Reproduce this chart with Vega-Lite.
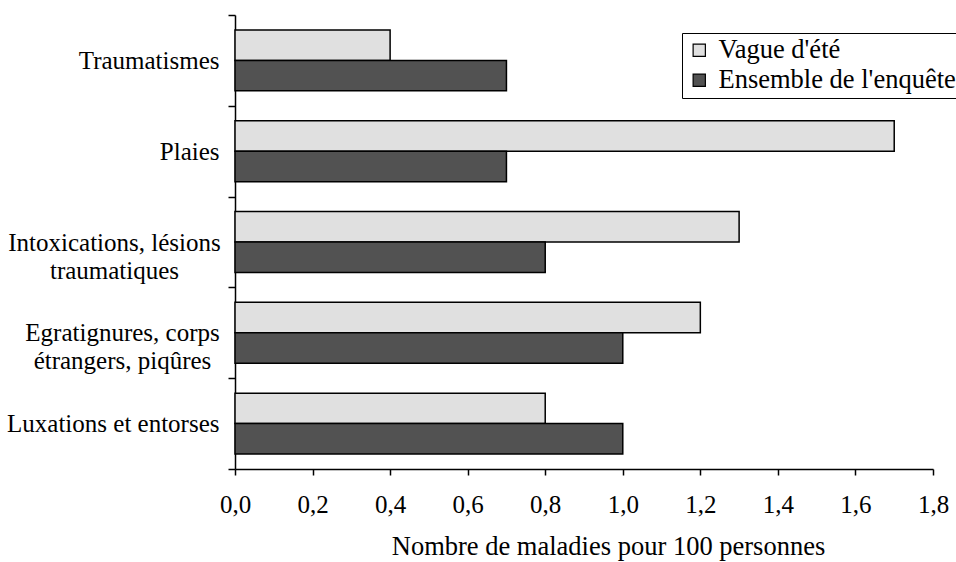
{
  "$schema": "https://vega.github.io/schema/vega-lite/v6.json",
  "autosize": {"type": "none"},
  "padding": {"left": 235, "top": 15, "right": 23, "bottom": 93},
  "width": 698,
  "height": 454,
  "background": "white",
  "config": {
    "view": {"stroke": null},
    "font": "Liberation Serif",
    "axis": {
      "labelFont": "Liberation Serif",
      "titleFont": "Liberation Serif",
      "labelColor": "black",
      "titleColor": "black",
      "domainColor": "black",
      "tickColor": "black",
      "domainWidth": 1.5,
      "tickWidth": 1.5,
      "grid": false
    },
    "legend": {
      "labelFont": "Liberation Serif",
      "labelColor": "black"
    }
  },
  "data": {
    "values": [
      {"categorie": "Traumatismes", "serie": "Vague d'été", "taux": 0.4},
      {"categorie": "Traumatismes", "serie": "Ensemble de l'enquête", "taux": 0.7},
      {"categorie": "Plaies", "serie": "Vague d'été", "taux": 1.7},
      {"categorie": "Plaies", "serie": "Ensemble de l'enquête", "taux": 0.7},
      {"categorie": "Intoxications, lésions traumatiques", "serie": "Vague d'été", "taux": 1.3},
      {"categorie": "Intoxications, lésions traumatiques", "serie": "Ensemble de l'enquête", "taux": 0.8},
      {"categorie": "Egratignures, corps étrangers, piqûres", "serie": "Vague d'été", "taux": 1.2},
      {"categorie": "Egratignures, corps étrangers, piqûres", "serie": "Ensemble de l'enquête", "taux": 1.0},
      {"categorie": "Luxations et entorses", "serie": "Vague d'été", "taux": 0.8},
      {"categorie": "Luxations et entorses", "serie": "Ensemble de l'enquête", "taux": 1.0}
    ]
  },
  "mark": {"type": "bar", "stroke": "black", "strokeWidth": 1.5, "cornerRadius": 0},
  "encoding": {
    "y": {
      "field": "categorie",
      "type": "nominal",
      "sort": ["Traumatismes", "Plaies", "Intoxications, lésions traumatiques", "Egratignures, corps étrangers, piqûres", "Luxations et entorses"],
      "scale": {"paddingInner": 0, "paddingOuter": 0},
      "axis": {
        "title": null,
        "tickBand": "extent",
        "tickSize": 7,
        "labelFontSize": 25,
        "labelLineHeight": 28,
        "labelPadding": {
          "condition": [
            {"test": "datum.value === 'Intoxications, lésions traumatiques'", "value": 114},
            {"test": "datum.value === 'Egratignures, corps étrangers, piqûres'", "value": 106}
          ],
          "value": 9
        },
        "labelAlign": {
          "condition": {"test": "datum.value === 'Intoxications, lésions traumatiques' || datum.value === 'Egratignures, corps étrangers, piqûres'", "value": "center"},
          "value": "right"
        },
        "labelExpr": "datum.value === 'Intoxications, lésions traumatiques' ? ['Intoxications, lésions', 'traumatiques'] : datum.value === 'Egratignures, corps étrangers, piqûres' ? ['Egratignures, corps', 'étrangers, piqûres'] : datum.value",
        "labelLimit": 400
      }
    },
    "yOffset": {
      "field": "serie",
      "type": "nominal",
      "sort": ["Vague d'été", "Ensemble de l'enquête"],
      "scale": {"paddingInner": 0, "paddingOuter": 0.49}
    },
    "x": {
      "field": "taux",
      "type": "quantitative",
      "scale": {"domain": [0, 1.8], "nice": false},
      "axis": {
        "title": "Nombre de maladies pour 100 personnes",
        "titleFontSize": 26.5,
        "titleFontWeight": "normal",
        "titlePadding": 16,
        "titleX": 373,
        "titleAlign": "center",
        "values": [0, 0.2, 0.4, 0.6, 0.8, 1.0, 1.2, 1.4, 1.6, 1.8],
        "labelExpr": "replace(format(datum.value, '.1f'), '.', ',')",
        "labelFontSize": 25,
        "labelPadding": 17,
        "tickSize": 6,
        "labelFlush": false
      }
    },
    "fill": {
      "field": "serie",
      "type": "nominal",
      "sort": ["Vague d'été", "Ensemble de l'enquête"],
      "scale": {"domain": ["Vague d'été", "Ensemble de l'enquête"], "range": ["#e0e0e0", "#525252"]},
      "legend": {
        "title": null,
        "orient": "none",
        "legendX": 447,
        "legendY": 18,
        "direction": "vertical",
        "symbolType": "square",
        "symbolSize": 150,
        "symbolStrokeColor": "black",
        "symbolStrokeWidth": 1.2,
        "labelFontSize": 26.5,
        "labelOffset": 6,
        "rowPadding": 3,
        "padding": 4,
        "strokeColor": "black",
        "labelLimit": 400
      }
    }
  }
}
